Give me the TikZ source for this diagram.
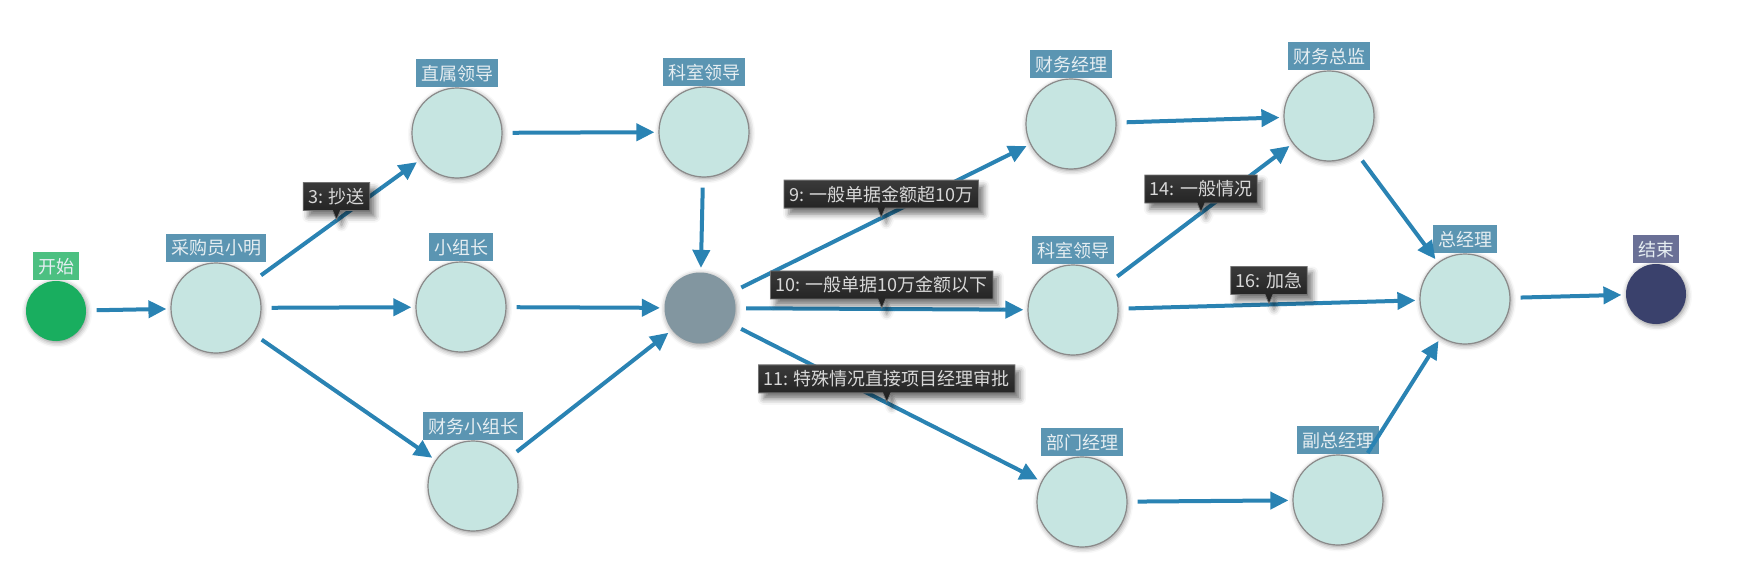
\documentclass[tikz,border=0pt]{standalone}
\usepackage{fontspec}
\setmainfont{Noto Sans CJK SC}
\usetikzlibrary{positioning, shapes, shapes.callouts, arrows.meta, shadows.blur}

\definecolor{flowblue}{HTML}{2A83B3}
\definecolor{stepfill}{HTML}{C6E5E1}
\definecolor{stepline}{HTML}{8A8A8A}
\definecolor{gatefill}{HTML}{8296A0}
\definecolor{startfill}{HTML}{19AE5F}
\definecolor{finishfill}{HTML}{3A416C}
\definecolor{capblue}{HTML}{5B95B2}
\definecolor{capgreen}{HTML}{4CC081}
\definecolor{capnavy}{HTML}{6A7096}
\definecolor{captext}{HTML}{E6EEF2}
\definecolor{tiptop}{HTML}{3A3A3A}
\definecolor{tipbottom}{HTML}{1E1E1E}
\definecolor{tiptext}{HTML}{D8D8D8}

\begin{document}
\begin{tikzpicture}[
    x=1pt, y=-1pt,
    >={Triangle[length=18pt, width=17pt]},
    % Styles
    task/.style={ % Approval step
        circle,
        draw=stepline,
        line width=1.2pt,
        fill=stepfill,
        minimum size=90pt,
        inner sep=0pt,
        blur shadow={shadow xshift=1pt, shadow yshift=-1.5pt, shadow blur radius=5pt, shadow opacity=45}
    },
    gateway/.style={ % Branching point
        task,
        draw=none,
        fill=gatefill,
        minimum size=71pt
    },
    terminal/.style={ % Start and end events
        task,
        draw=none,
        minimum size=60pt
    },
    caption/.style={ % Name above a step
        rectangle,
        fill=capblue,
        text=captext,
        inner xsep=5pt,
        inner ysep=0pt,
        minimum height=28pt,
        font=\fontsize{18}{18}\selectfont
    },
    flow/.style={ % Connector
        ->,
        draw=flowblue,
        line width=4pt,
        shorten <=10pt,
        shorten >=4pt
    },
    tooltip/.style={ % Condition on a connector
        rectangle callout,
        callout relative pointer={(0pt,-9pt)},
        callout pointer width=8pt,
        draw=black!55,
        line width=0.8pt,
        top color=tiptop,
        bottom color=tipbottom,
        text=tiptext,
        inner xsep=5pt,
        inner ysep=0pt,
        minimum height=28pt,
        anchor=pointer,
        font=\fontsize{18}{18}\selectfont,
        blur shadow={shadow xshift=5pt, shadow yshift=-6pt, shadow blur radius=6pt, shadow opacity=55}
    }
]
    \useasboundingbox (0,0) rectangle (1758,586);

    % Steps
    \node [terminal, fill=startfill] (start) at (56,311) {};
    \node [task] (buyer) at (216,308) {};
    \node [task] (direct) at (457,133) {};
    \node [task] (dept) at (704,132) {};
    \node [task] (team) at (461,307) {};
    \node [task] (finteam) at (473,486) {};
    \node [gateway] (gate) at (700,308) {};
    \node [task] (finmgr) at (1071,124) {};
    \node [task] (fincfo) at (1329,116) {};
    \node [task] (office) at (1073,310) {};
    \node [task] (divmgr) at (1082,502) {};
    \node [task] (vicegm) at (1338,500) {};
    \node [task] (gm) at (1465,299) {};
    \node [terminal, fill=finishfill] (finish) at (1656,294) {};

    % Captions
    \node [caption, fill=capgreen, above=0pt of start] (start-cap) {开始};
    \node [caption, above=0pt of buyer] (buyer-cap) {采购员小明};
    \node [caption, above=0pt of direct] (direct-cap) {直属领导};
    \node [caption, above=0pt of dept] (dept-cap) {科室领导};
    \node [caption, above=0pt of team] (team-cap) {小组长};
    \node [caption, above=0pt of finteam] (finteam-cap) {财务小组长};
    \node [caption, above=0pt of finmgr] (finmgr-cap) {财务经理};
    \node [caption, above=0pt of fincfo] (fincfo-cap) {财务总监};
    \node [caption, above=0pt of office] (office-cap) {科室领导};
    \node [caption, above=0pt of divmgr] (divmgr-cap) {部门经理};
    \node [caption, above=0pt of vicegm] (vicegm-cap) {副总经理};
    \node [caption, above=0pt of gm] (gm-cap) {总经理};
    \node [caption, fill=capnavy, above=0pt of finish] (finish-cap) {结束};

    % Connectors
    \draw [flow] (start) -- (buyer);
    \draw [flow] (buyer) -- (direct);
    \draw [flow] (buyer) -- (team);
    \draw [flow] (buyer) -- (finteam);
    \draw [flow] (direct) -- (dept);
    \draw [flow] (dept) -- (gate);
    \draw [flow] (team) -- (gate);
    \draw [flow] (finteam) -- (gate);
    \draw [flow] (gate) -- (finmgr);
    \draw [flow] (gate) -- (office);
    \draw [flow] (gate) -- (divmgr);
    \draw [flow] (finmgr) -- (fincfo);
    \draw [flow] (office) -- (fincfo);
    \draw [flow] (office) -- (gm);
    \draw [flow] (fincfo) -- (gm);
    \draw [flow] (divmgr) -- (vicegm);
    \draw [flow] (vicegm) -- (gm);
    \draw [flow] (gm) -- (finish);

    % Conditions
    \path (buyer) -- node [tooltip] (tip3) {3: 抄送} (direct);
    \path (gate) -- node [tooltip] (tip9) {9: 一般单据金额超10万} (finmgr);
    \path (gate) -- node [tooltip] (tip10) {10: 一般单据10万金额以下} (office);
    \path (gate) -- node [tooltip] (tip11) {11: 特殊情况直接项目经理审批} (divmgr);
    \path (office) -- node [tooltip] (tip14) {14: 一般情况} (fincfo);
    \path (office) -- node [tooltip] (tip16) {16: 加急} (gm);
\end{tikzpicture}
\end{document}
